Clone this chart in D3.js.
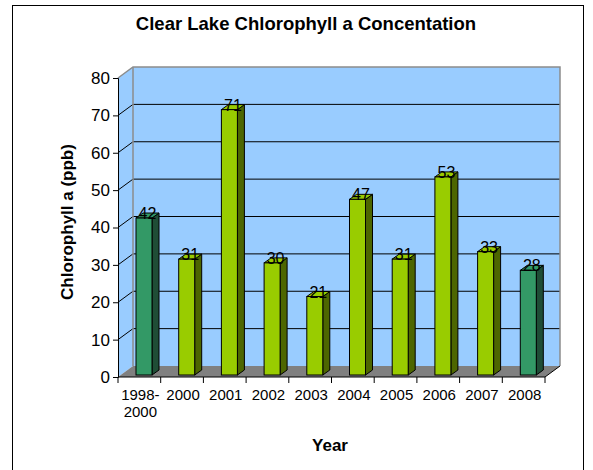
<!DOCTYPE html>
<html><head><meta charset="utf-8">
<script src="https://cdn.jsdelivr.net/npm/d3@7"></script>
<style>body{margin:0;background:#fff}svg{display:block}text{font-family:"Liberation Sans",Arial,sans-serif}</style>
</head><body>
<script>
const categories = ["1998-2000","2000","2001","2002","2003","2004","2005","2006","2007","2008"];
const labelLines = [["1998-","2000"],["2000"],["2001"],["2002"],["2003"],["2004"],["2005"],["2006"],["2007"],["2008"]];
const values = [42,31,71,30,21,47,31,53,33,28];
const dark = [true,false,false,false,false,false,false,false,false,true];
const yTicks = [0,10,20,30,40,50,60,70,80];

const W=593,H=470;
const svg=d3.select("body").append("svg").attr("width",W).attr("height",H);
svg.append("rect").attr("x",12.5).attr("y",5.5).attr("width",571).attr("height",470).attr("fill","#fff").attr("stroke","#000");

const x=d3.scaleBand().domain(categories).range([118,545]).paddingInner(0).paddingOuter(0);
const y=d3.scaleLinear().domain([0,80]).range([377,78]);
const DX=15, DY=-11;

const g=svg.append("g");
g.append("path").attr("d",`M118,${y(0)}L118,${y(80)}L${118+DX},${y(80)+DY}L${118+DX},${y(0)+DY}Z`).attr("fill","#99CCFF");
g.append("rect").attr("x",118+DX).attr("y",y(80)+DY).attr("width",545-118).attr("height",y(0)-y(80)).attr("fill","#99CCFF");
g.append("path").attr("d",`M118,${y(0)}L545,${y(0)}L${545+DX},${y(0)+DY}L${118+DX},${y(0)+DY}Z`).attr("fill","#808080");
yTicks.filter(t=>t>0&&t<80).forEach(t=>{
  g.append("path").attr("d",`M118,${y(t)}L${118+DX},${y(t)+DY}L${545+DX},${y(t)+DY}`).attr("fill","none").attr("stroke","#000").attr("stroke-width",1);
});
g.append("path").attr("d",`M118,${y(80)}L${118+DX},${y(80)+DY}L${545+DX},${y(80)+DY}L${545+DX},${y(0)+DY}`).attr("fill","none").attr("stroke","#8c8c8c").attr("stroke-width",1.5);
g.append("path").attr("d",`M${118+DX},${y(80)+DY}L${118+DX},${y(0)+DY}`).attr("fill","none").attr("stroke","#8c8c8c").attr("stroke-width",1.5);
g.append("path").attr("d",`M545,${y(0)}L${545+DX},${y(0)+DY}`).attr("fill","none").attr("stroke","#000").attr("stroke-width",1);

const OX=3, OY=-2, BX=7, BY=-5, BW=16;
const bars=svg.append("g");
categories.forEach((c,i)=>{
  const v=values[i];
  const l=x(c)+15+OX, r=l+BW, b=y(0)+OY, t=y(v)+OY;
  const front=dark[i]?"#339966":"#99CC00";
  const side=dark[i]?"#1F4D36":"#4D6600";
  const top=dark[i]?"#339966":"#99CC00";
  bars.append("path").attr("d",`M${r},${b}L${r+BX},${b+BY}L${r+BX},${t+BY}L${r},${t}Z`).attr("fill",side).attr("stroke","#000").attr("stroke-width",1).attr("stroke-linejoin","round");
  bars.append("path").attr("d",`M${l},${t}L${l+BX},${t+BY}L${r+BX},${t+BY}L${r},${t}Z`).attr("fill",top).attr("stroke","#000").attr("stroke-width",1).attr("stroke-linejoin","round");
  bars.append("rect").attr("x",l).attr("y",t).attr("width",BW).attr("height",b-t).attr("fill",front).attr("stroke","#000").attr("stroke-width",1);
  bars.append("text").attr("x",(l+r)/2+BX/2).attr("y",t+1).attr("text-anchor","middle").attr("font-size",16).attr("fill","#000").text(v);
});

const ya=svg.append("g").attr("transform","translate(118,0)").call(d3.axisLeft(y).tickValues(yTicks).tickSize(5).tickPadding(3));
ya.select(".domain").attr("stroke","#000");
ya.selectAll("text").attr("font-size",17).attr("font-family","Liberation Sans, Arial, sans-serif");
svg.append("line").attr("x1",118).attr("x2",545).attr("y1",y(0)).attr("y2",y(0)).attr("stroke","#000");
const bounds=categories.map(c=>x(c)).concat([545]);
bounds.forEach(bx=>svg.append("line").attr("x1",bx).attr("x2",bx).attr("y1",y(0)).attr("y2",y(0)+6).attr("stroke","#000"));
categories.forEach((c,i)=>{
  const t=svg.append("text").attr("x",x(c)+x.bandwidth()/2+1).attr("y",400).attr("text-anchor","middle").attr("font-size",15);
  labelLines[i].forEach((ln,k)=>t.append("tspan").attr("x",x(c)+x.bandwidth()/2+1).attr("dy",k?17:0).text(ln));
});

svg.append("text").attr("x",306).attr("y",30).attr("text-anchor","middle").attr("font-size",18.5).attr("font-weight","bold").text("Clear Lake Chlorophyll a Concentation");
svg.append("text").attr("transform","translate(73,222) rotate(-90)").attr("text-anchor","middle").attr("font-size",17).attr("font-weight","bold").text("Chlorophyll a (ppb)");
svg.append("text").attr("x",330).attr("y",451).attr("text-anchor","middle").attr("font-size",17).attr("font-weight","bold").text("Year");
</script>
</body></html>
